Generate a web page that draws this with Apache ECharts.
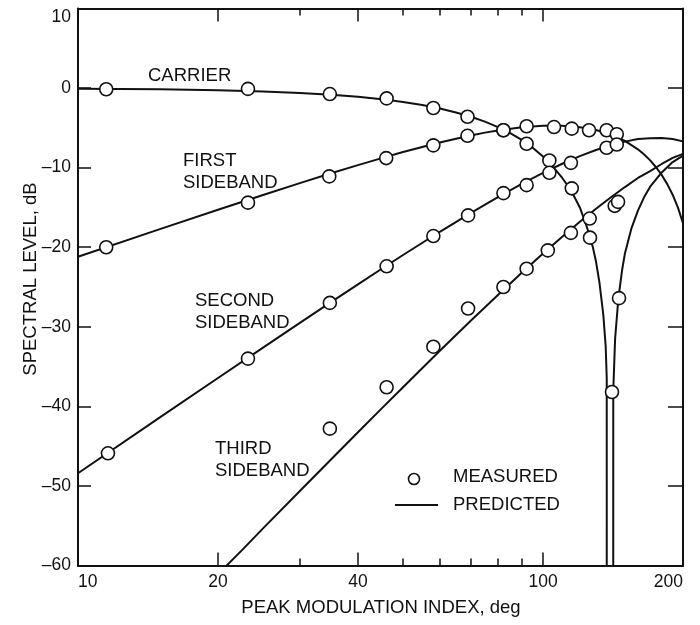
<!DOCTYPE html>
<html><head><meta charset="utf-8">
<script src="https://cdn.jsdelivr.net/npm/echarts@6/dist/echarts.min.js"></script>
<style>html,body{margin:0;padding:0;background:#fff}#c{width:700px;height:625px}</style>
</head><body><div id="c"></div>
<script>
// ---- tick values ----
const xMajorTicks = [10, 20, 40, 100, 200];
const xMinorTicks = [30, 50, 60, 70, 80, 90];

// ---- predicted curves [deg, dB] ----
const carrierPredicted = [[10,-0.07],[15,-0.15],[20,-0.27],[25,-0.42],[30,-0.61],[35,-0.83],[40,-1.09],[45,-1.39],[50,-1.74],[55,-2.13],[60,-2.57],[65,-3.06],[70,-3.61],[75,-4.22],[80,-4.9],[85,-5.66],[90,-6.52],[95,-7.49],[100,-8.6],[105,-9.87],[110,-11.3],[115,-12.9],[120,-15.0],[124,-17.3],[126,-18.6],[128,-20.0],[130,-21.8],[132.2,-24.4],[134.8,-28.5],[136.4,-32.5],[137.1,-36.5],[137.12,-70],[141.58,-70],[141.6,-38],[142.9,-31.5],[145.2,-26.5],[148,-22.8],[150,-20.8],[155,-17.6],[160,-15.4],[165,-13.7],[170,-12.4],[180,-10.6],[190,-9.3],[200,-8.5]];
const firstPredicted = [[10,-21.2],[15,-17.73],[20,-15.29],[25,-13.43],[30,-11.94],[35,-10.71],[40,-9.68],[45,-8.8],[50,-8.04],[55,-7.4],[60,-6.84],[65,-6.36],[70,-5.95],[75,-5.6],[80,-5.32],[90,-4.93],[100,-4.73],[105,-4.7],[110,-4.72],[120,-4.91],[130,-5.27],[140,-5.85],[150,-6.63],[160,-7.7],[165,-8.35],[170,-9.09],[175,-9.95],[180,-10.92],[185,-12.07],[190,-13.4],[195,-15.0],[200,-16.98]];
const secondPredicted = [[10,-48.41],[15,-41.39],[20,-36.44],[25,-32.61],[30,-29.5],[35,-26.9],[40,-24.66],[45,-22.71],[50,-20.98],[60,-18.06],[70,-15.68],[80,-13.7],[90,-12.05],[100,-10.66],[110,-9.51],[120,-8.55],[130,-7.79],[140,-7.19],[150,-6.73],[160,-6.39],[170,-6.31],[180,-6.28],[190,-6.39],[200,-6.7]];
const thirdPredicted = [[20,-61.1],[22.5,-58.1],[25,-55.34],[30,-50.63],[35,-46.67],[40,-43.25],[45,-40.25],[50,-37.59],[60,-33.02],[70,-29.22],[80,-26.0],[90,-23.22],[100,-20.8],[110,-18.68],[120,-16.81],[130,-15.17],[140,-13.72],[150,-12.44],[160,-11.3],[170,-10.43],[180,-9.54],[190,-8.78],[200,-8.27]];

// ---- measured points [deg, dB] ----
const carrierMeasured = [[11.5,-0.15],[23.2,-0.1],[34.8,-0.75],[46.1,-1.3],[58.1,-2.5],[68.8,-3.6],[82.2,-5.3],[92.2,-7.0],[103.2,-9.1],[115.3,-12.6],[126.2,-18.8],[140.7,-38.2],[145.7,-26.4]];
const firstMeasured = [[11.5,-20.0],[23.2,-14.4],[34.7,-11.1],[46.0,-8.8],[58.1,-7.2],[68.8,-6.0],[82.2,-5.3],[92.2,-4.8],[105.6,-4.9],[115.3,-5.1],[125.6,-5.3],[137,-5.3],[144.1,-5.8]];
const secondMeasured = [[11.6,-45.9],[23.2,-34.0],[34.8,-27.0],[46.1,-22.4],[58.1,-18.6],[69,-16.0],[82.2,-13.2],[92.2,-12.2],[103.2,-10.65],[114.8,-9.4],[137,-7.5],[144.1,-7.1]];
const thirdMeasured = [[34.8,-42.8],[46.1,-37.6],[58.1,-32.5],[69,-27.7],[82.2,-25.0],[92.2,-22.7],[102.4,-20.4],[114.8,-18.2],[126,-16.4],[142.6,-14.8],[145,-14.3]];

const FF = '"Liberation Sans", Arial, Helvetica, sans-serif';
const INK = '#111';
const chart = echarts.init(document.getElementById('c'), null, {renderer: 'canvas'});
const gridRect = {left: 78, right: 17, top: 8.5, bottom: 59.5};

function lineSeries(data) {
  return {type: 'line', name: 'PREDICTED', data: data, showSymbol: false, symbol: 'none',
    lineStyle: {color: INK, width: 2}, clip: true, z: 2, silent: true, smooth: false};
}
function dotSeries(data) {
  return {type: 'scatter', name: 'MEASURED', data: data, symbol: 'circle', symbolSize: 13,
    itemStyle: {color: '#fff', borderColor: INK, borderWidth: 1.6, opacity: 1}, z: 5, silent: true};
}
function txt(x, y, s, extra) {
  return Object.assign({type: 'text', x: x, y: y, style: {text: s, fill: INK, font: '18.5px ' + FF, textAlign: 'left', textVerticalAlign: 'middle'}}, extra || {});
}
const tickLine = {color: INK, width: 1.5};

chart.setOption({
  animation: false,
  backgroundColor: '#fff',
  grid: [Object.assign({}, gridRect), Object.assign({}, gridRect)],
  xAxis: [
    {gridIndex: 0, type: 'log', logBase: 10, min: 10, max: 200, position: 'bottom',
      axisLine: {show: true, onZero: false, lineStyle: {color: INK, width: 2}},
      axisTick: {show: true, inside: true, length: 13, customValues: xMajorTicks, lineStyle: tickLine},
      axisLabel: {show: true, customValues: xMajorTicks, margin: 8, fontSize: 17.5, color: INK, fontFamily: FF, alignMinLabel: 'left', alignMaxLabel: 'right'},
      splitLine: {show: false}, minorTick: {show: false}},
    {gridIndex: 0, type: 'log', logBase: 10, min: 10, max: 200, position: 'top',
      axisLine: {show: true, onZero: false, lineStyle: {color: INK, width: 2}},
      axisTick: {show: true, inside: true, length: 13, customValues: xMajorTicks, lineStyle: tickLine},
      axisLabel: {show: false}, splitLine: {show: false}},
    {gridIndex: 1, type: 'log', logBase: 10, min: 10, max: 200, position: 'bottom',
      axisLine: {show: false, onZero: false},
      axisTick: {show: true, inside: true, length: 7, customValues: xMinorTicks, lineStyle: tickLine},
      axisLabel: {show: false}, splitLine: {show: false}},
    {gridIndex: 1, type: 'log', logBase: 10, min: 10, max: 200, position: 'top',
      axisLine: {show: false, onZero: false},
      axisTick: {show: true, inside: true, length: 7, customValues: xMinorTicks, lineStyle: tickLine},
      axisLabel: {show: false}, splitLine: {show: false}}
  ],
  yAxis: [
    {gridIndex: 0, type: 'value', min: -60, max: 10, interval: 10, position: 'left',
      axisLine: {show: true, onZero: false, lineStyle: {color: INK, width: 2}},
      axisTick: {show: true, inside: true, length: 13, lineStyle: tickLine},
      axisLabel: {show: true, margin: 7, fontSize: 17.5, color: INK, fontFamily: FF,
        verticalAlignMaxLabel: 'top',
        formatter: function (v) { return v < 0 ? '\u2013' + (-v) : String(v); }},
      splitLine: {show: false}},
    {gridIndex: 0, type: 'value', min: -60, max: 10, interval: 10, position: 'right',
      axisLine: {show: true, onZero: false, lineStyle: {color: INK, width: 2}},
      axisTick: {show: true, inside: true, length: 15, lineStyle: tickLine},
      axisLabel: {show: false}, splitLine: {show: false}},
    {gridIndex: 1, type: 'value', min: -60, max: 10, show: false}
  ],
  series: [
    lineSeries(carrierPredicted), lineSeries(firstPredicted), lineSeries(secondPredicted), lineSeries(thirdPredicted),
    dotSeries(carrierMeasured), dotSeries(firstMeasured), dotSeries(secondMeasured), dotSeries(thirdMeasured)
  ],
  graphic: [
    txt(148, 76, 'CARRIER'),
    txt(183, 160.5, 'FIRST'), txt(183, 182.5, 'SIDEBAND'),
    txt(195, 301, 'SECOND'), txt(195, 322.5, 'SIDEBAND'),
    txt(215, 449, 'THIRD'), txt(215, 471, 'SIDEBAND'),
    // legend
    {type: 'circle', shape: {cx: 414, cy: 479, r: 5.5}, style: {fill: '#fff', stroke: INK, lineWidth: 1.6}},
    {type: 'line', shape: {x1: 395, y1: 505, x2: 438, y2: 505}, style: {stroke: INK, lineWidth: 2}},
    txt(453, 477, 'MEASURED'),
    txt(453, 505, 'PREDICTED'),
    // axis titles
    {type: 'text', x: 381, y: 608, style: {text: 'PEAK MODULATION INDEX, deg', fill: INK, font: '18.5px ' + FF, textAlign: 'center', textVerticalAlign: 'middle'}},
    {type: 'text', x: 31, y: 279, rotation: Math.PI / 2, style: {text: 'SPECTRAL LEVEL, dB', fill: INK, font: '18.5px ' + FF, textAlign: 'center', textVerticalAlign: 'middle'}}
  ]
});
</script>
</body></html>
